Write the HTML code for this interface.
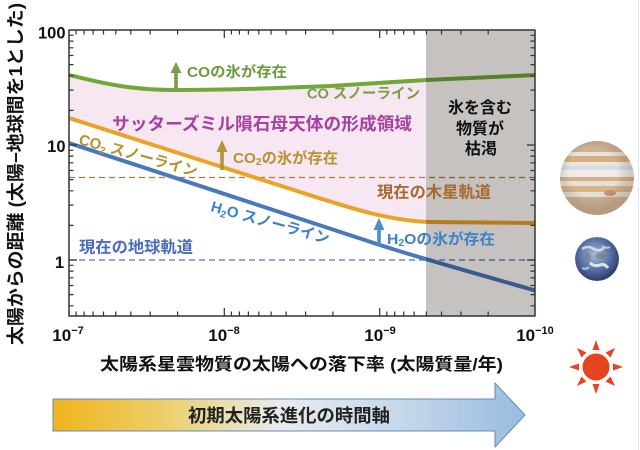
<!DOCTYPE html>
<html><head><meta charset="utf-8">
<style>
html,body{margin:0;padding:0;background:#fff;}
svg{display:block;font-family:"Liberation Sans","Noto Sans CJK JP",sans-serif;font-weight:bold;}
</style></head>
<body>
<svg width="640" height="450" viewBox="0 0 640 450" xmlns="http://www.w3.org/2000/svg">
<defs>
  <clipPath id="plot"><rect x="69" y="30" width="466" height="286"/></clipPath>
  <clipPath id="jc"><circle cx="597" cy="178" r="37"/></clipPath>
  <clipPath id="ec"><circle cx="597" cy="259" r="22"/></clipPath>
  <radialGradient id="jshade" cx="0.45" cy="0.42" r="0.6">
    <stop offset="0.55" stop-color="#000" stop-opacity="0"/>
    <stop offset="1" stop-color="#7a5a40" stop-opacity="0.3"/>
  </radialGradient>
  <radialGradient id="eg" cx="0.45" cy="0.4" r="0.65">
    <stop offset="0" stop-color="#a9bcdc"/>
    <stop offset="0.6" stop-color="#50689c"/>
    <stop offset="1" stop-color="#24305a"/>
  </radialGradient>
  <linearGradient id="ag" x1="53" y1="0" x2="525" y2="0" gradientUnits="userSpaceOnUse">
    <stop offset="0" stop-color="#f1b41c"/>
    <stop offset="0.25" stop-color="#ecd070"/>
    <stop offset="0.48" stop-color="#e9ecee"/>
    <stop offset="0.75" stop-color="#c4d6ea"/>
    <stop offset="1" stop-color="#98bce0"/>
  </linearGradient>
</defs>

<rect width="640" height="450" fill="#fff"/>
<line x1="638.5" y1="0" x2="638.5" y2="450" stroke="#e6e6e6" stroke-width="1"/>

<g clip-path="url(#plot)">
  <path d="M69,75 C95,81 125,90 175,90 C250,90 300,87 330,86 L426,80 L426,222 C390,221 350,208 300,192 L69,118 Z" fill="#f6e7f3"/>
  <line x1="69" y1="177.5" x2="535" y2="177.5" stroke="#b07a45" stroke-width="1.2" stroke-dasharray="6,4"/>
  <line x1="69" y1="260" x2="535" y2="260" stroke="#4a70c8" stroke-width="1.2" stroke-dasharray="6,4"/>
  <path d="M69,75 C95,81 125,90 175,90 C250,90 300,87 330,86 L426,80 L537,75" fill="none" stroke="#72a83a" stroke-width="4"/>
  <path d="M69,118 L300,192 C350,208 390,221 430,222 L537,223" fill="none" stroke="#eba325" stroke-width="4"/>
  <path d="M69,143 L380,245 C410,255 470,272 537,291" fill="none" stroke="#4a78bd" stroke-width="4"/>
  <rect x="426" y="30" width="109" height="286" fill="#c6c2bf" style="mix-blend-mode:multiply"/>
</g>

<rect x="69" y="30" width="466" height="286" fill="none" stroke="#333" stroke-width="1.5"/>
<g stroke="#333" stroke-width="1.2" fill="none">
  <path d="M76.1 316v-4.5M84.1 316v-4.5M93.1 316v-4.5M103.5 316v-4.5M115.8 316v-4.5M130.8 316v-4.5M150.2 316v-4.5M177.6 316v-4.5M224.3 316v-8M231.4 316v-4.5M239.4 316v-4.5M248.4 316v-4.5M258.8 316v-4.5M271.1 316v-4.5M286.1 316v-4.5M305.6 316v-4.5M332.9 316v-4.5M379.7 316v-8M386.8 316v-4.5M394.7 316v-4.5M403.7 316v-4.5M414.1 316v-4.5M426.4 316v-4.5M441.5 316v-4.5M460.9 316v-4.5M488.2 316v-4.5"/>
  <path d="M76.1 30v4.5M84.1 30v4.5M93.1 30v4.5M103.5 30v4.5M115.8 30v4.5M130.8 30v4.5M150.2 30v4.5M177.6 30v4.5M224.3 30v8M231.4 30v4.5M239.4 30v4.5M248.4 30v4.5M258.8 30v4.5M271.1 30v4.5M286.1 30v4.5M305.6 30v4.5M332.9 30v4.5M379.7 30v8M386.8 30v4.5M394.7 30v4.5M403.7 30v4.5M414.1 30v4.5M426.4 30v4.5M441.5 30v4.5M460.9 30v4.5M488.2 30v4.5"/>
  <path d="M69 35.3h4.5M69 41.1h4.5M69 47.8h4.5M69 55.5h4.5M69 64.6h4.5M69 75.8h4.5M69 90.1h4.5M69 110.4h4.5M69 145h8M69 150.3h4.5M69 156.1h4.5M69 162.8h4.5M69 170.5h4.5M69 179.6h4.5M69 190.8h4.5M69 205.1h4.5M69 225.4h4.5M69 260h8M69 265.3h4.5M69 271.1h4.5M69 277.8h4.5M69 285.5h4.5M69 294.6h4.5M69 305.8h4.5"/>
  <path d="M535 35.3h-4.5M535 41.1h-4.5M535 47.8h-4.5M535 55.5h-4.5M535 64.6h-4.5M535 75.8h-4.5M535 90.1h-4.5M535 110.4h-4.5M535 145h-8M535 150.3h-4.5M535 156.1h-4.5M535 162.8h-4.5M535 170.5h-4.5M535 179.6h-4.5M535 190.8h-4.5M535 205.1h-4.5M535 225.4h-4.5M535 260h-8M535 265.3h-4.5M535 271.1h-4.5M535 277.8h-4.5M535 285.5h-4.5M535 294.6h-4.5M535 305.8h-4.5"/>
</g>

<g font-size="16.5" fill="#111" text-anchor="end">
  <text x="65.5" y="38.5">100</text>
  <text x="65.5" y="152">10</text>
  <text x="64" y="268">1</text>
</g>
<g font-size="17" fill="#111" text-anchor="middle">
  <text x="68" y="341">10<tspan font-size="11" dy="-7">−7</tspan></text>
  <text x="224" y="341">10<tspan font-size="11" dy="-7">−8</tspan></text>
  <text x="380" y="341">10<tspan font-size="11" dy="-7">−9</tspan></text>
  <text x="535" y="341">10<tspan font-size="11" dy="-7">−10</tspan></text>
</g>

<text transform="translate(22,174) rotate(-90)" text-anchor="middle" font-size="18" fill="#111" textLength="342" lengthAdjust="spacingAndGlyphs">太陽からの距離 (太陽−地球間を1とした)</text>
<text x="100" y="370" font-size="17" fill="#111" textLength="403" lengthAdjust="spacingAndGlyphs">太陽系星雲物質の太陽への落下率 (太陽質量/年)</text>

<g fill="#7a9e48"><rect x="174.2" y="71" width="3.6" height="17"/><polygon points="176,62 170.5,73 181.5,73"/></g>
<g fill="#b59436"><rect x="220.2" y="150" width="3.6" height="20"/><polygon points="222,140 216.5,152 227.5,152"/></g>
<g fill="#4a8ccc"><rect x="377.2" y="228" width="3.6" height="17"/><polygon points="379,218 373.5,230 384.5,230"/></g>

<text x="187" y="77" font-size="14.5" fill="#6a9a3a" textLength="100" lengthAdjust="spacingAndGlyphs">COの氷が存在</text>
<text x="307" y="98.5" font-size="14.5" fill="#78a04a" textLength="113" lengthAdjust="spacingAndGlyphs">CO スノーライン</text>
<text x="112" y="130" font-size="17.5" fill="#a8409e" textLength="300" lengthAdjust="spacingAndGlyphs">サッターズミル隕石母天体の形成領域</text>
<text x="233" y="163" font-size="15" fill="#b8922e" textLength="105" lengthAdjust="spacingAndGlyphs">CO<tspan font-size="10" dy="2">2</tspan><tspan dy="-2">の氷が存在</tspan></text>
<text x="387" y="244" font-size="15" fill="#3d82c8" textLength="108" lengthAdjust="spacingAndGlyphs">H<tspan font-size="10" dy="2">2</tspan><tspan dy="-2">Oの氷が存在</tspan></text>
<text transform="translate(78,144) rotate(15.5)" font-size="15" fill="#b8922e">CO<tspan font-size="10" dy="3">2</tspan><tspan dy="-3"> スノーライン</tspan></text>
<text transform="translate(210,211) rotate(15.6)" font-size="15" fill="#3d82c8">H<tspan font-size="10" dy="3">2</tspan><tspan dy="-3">O スノーライン</tspan></text>
<text x="79" y="252.5" font-size="16" fill="#4a6cbc" textLength="114" lengthAdjust="spacingAndGlyphs">現在の地球軌道</text>
<text x="377" y="197.5" font-size="16" fill="#a8682e" textLength="114" lengthAdjust="spacingAndGlyphs">現在の木星軌道</text>
<g font-size="16" fill="#111" text-anchor="middle">
  <text x="480" y="113">氷を含む</text>
  <text x="480" y="134">物質が</text>
  <text x="481" y="154">枯渇</text>
</g>

<polygon points="53,399 495,399 495,383 525,415 495,447 495,431 53,431" fill="url(#ag)" stroke="#6a88b8" stroke-width="1"/>
<text x="188" y="422" font-size="18" fill="#222" textLength="202" lengthAdjust="spacingAndGlyphs">初期太陽系進化の時間軸</text>

<!-- Jupiter -->
<g clip-path="url(#jc)">
  <rect x="558" y="139" width="78" height="78" fill="#dccab0"/>
  <rect x="558" y="139" width="78" height="13" fill="#cdb194"/>
  <rect x="558" y="152" width="78" height="4" fill="#e9e2d6"/>
  <rect x="558" y="156" width="78" height="6" fill="#d6ae86"/>
  <rect x="558" y="162" width="78" height="4" fill="#ebe5da"/>
  <rect x="558" y="166" width="78" height="4" fill="#d3dde3"/>
  <rect x="558" y="170" width="78" height="7" fill="#f0ece5"/>
  <rect x="558" y="177" width="78" height="4" fill="#d6b08a"/>
  <rect x="558" y="181" width="78" height="5" fill="#e8dfd0"/>
  <rect x="558" y="186" width="78" height="6" fill="#d8b48e"/>
  <rect x="558" y="192" width="78" height="5" fill="#e6e0d7"/>
  <rect x="558" y="197" width="78" height="20" fill="#cfb496"/>
  <ellipse cx="610" cy="193" rx="6" ry="3" fill="#cc936a"/>
  <circle cx="597" cy="178" r="37" fill="url(#jshade)"/>
</g>
<!-- Earth -->
<g clip-path="url(#ec)">
  <circle cx="597" cy="259" r="22" fill="url(#eg)"/>
  <path d="M582,249 q6,-4 12,0 q5,3 10,-1" stroke="#e8eef6" stroke-width="2.5" fill="none" opacity="0.75"/>
  <path d="M590,263 q5,4 10,2 q4,-2 8,3" stroke="#f2f4f8" stroke-width="3" fill="none" opacity="0.85"/>
  <path d="M582,268 q4,2 7,-1" stroke="#dfe6f0" stroke-width="2" fill="none" opacity="0.7"/>
  <path d="M602,246 q4,3 8,1" stroke="#e6ecf4" stroke-width="2" fill="none" opacity="0.7"/>
  <ellipse cx="600" cy="256" rx="5" ry="3" fill="#7a6a50" opacity="0.45"/>
  <ellipse cx="588" cy="257" rx="3" ry="4" fill="#6a7050" opacity="0.35"/>
</g>
<!-- Sun -->
<g fill="#e8431f">
  <circle cx="596" cy="367" r="13.5"/>
  <g transform="translate(596,367)">
    <polygon points="-3.5,-17 3.5,-17 0,-27"/>
    <polygon points="-3.5,-17 3.5,-17 0,-27" transform="rotate(45)"/>
    <polygon points="-3.5,-17 3.5,-17 0,-27" transform="rotate(90)"/>
    <polygon points="-3.5,-17 3.5,-17 0,-27" transform="rotate(135)"/>
    <polygon points="-3.5,-17 3.5,-17 0,-27" transform="rotate(180)"/>
    <polygon points="-3.5,-17 3.5,-17 0,-27" transform="rotate(225)"/>
    <polygon points="-3.5,-17 3.5,-17 0,-27" transform="rotate(270)"/>
    <polygon points="-3.5,-17 3.5,-17 0,-27" transform="rotate(315)"/>
  </g>
</g>
</svg>
</body></html>
